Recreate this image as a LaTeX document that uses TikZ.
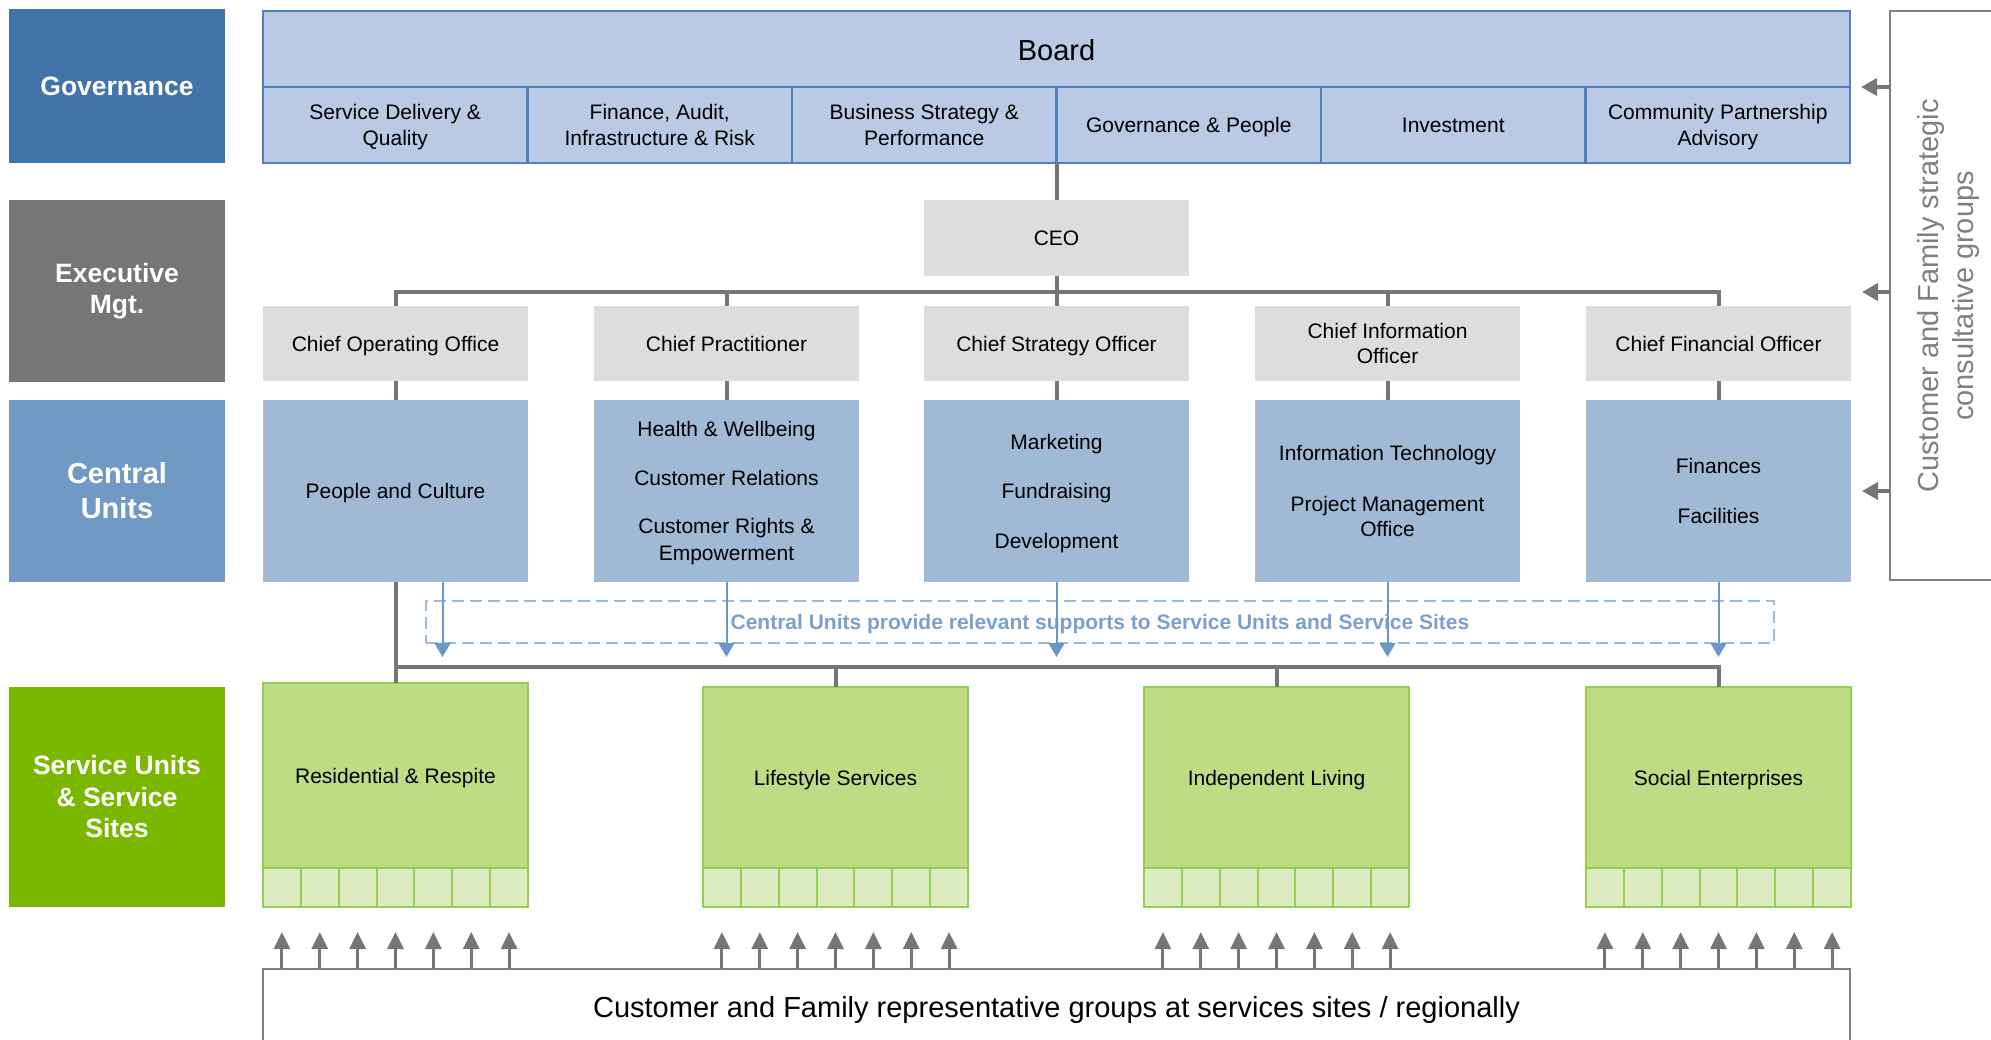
\documentclass[tikz,border=0pt]{standalone}
\usepackage{fontspec}
\setmainfont{Liberation Sans}
\usetikzlibrary{arrows.meta}
\definecolor{govblue}{HTML}{4174A9}
\definecolor{exgray}{HTML}{767676}
\definecolor{cenblue}{HTML}{7099C4}
\definecolor{svgreen}{HTML}{7AB800}
\definecolor{boardfill}{HTML}{BAC9E4}
\definecolor{boardline}{HTML}{4F81BD}
\definecolor{chieffill}{HTML}{DCDEDD}
\definecolor{unitfill}{HTML}{A0BAD6}
\definecolor{grfill}{HTML}{BEDC84}
\definecolor{grline}{HTML}{92D050}
\definecolor{cellfill}{HTML}{DDEBC1}
\definecolor{dashline}{HTML}{9DBAD9}
\definecolor{dashtext}{HTML}{7BA0CB}
\definecolor{arrblue}{HTML}{6C97C5}
\definecolor{linegray}{HTML}{767676}
\definecolor{rgray}{HTML}{808080}
\newcommand{\fnLab}{\fontsize{26.5}{31.5}\selectfont\bfseries}
\newcommand{\fnCen}{\fontsize{29}{35}\selectfont\bfseries}
\newcommand{\fnBox}{\fontsize{21}{25.5}\selectfont}
\newcommand{\fnBig}{\fontsize{29}{35}\selectfont}
\newcommand{\fnDash}{\fontsize{21}{25}\selectfont\bfseries}
\newcommand{\vstr}{\rule[-0.19em]{0pt}{1.14em}}
\begin{document}
\begin{tikzpicture}[x=1pt,y=-1pt,
 every node/.style={inner sep=0pt, outer sep=0pt, anchor=north west, align=center},
 st/.style={execute at begin node={\vstr}, execute at end node={\vstr}},
 ml/.style={text depth=-1pt},
 lbl/.style={rectangle, text=white, font=\fnLab, minimum width=216pt},
 bcell/.style={rectangle, st, draw=boardline, line width=2.5pt, fill=boardfill, font=\fnBox, minimum height=76pt, minimum width=264.5pt},
 chief/.style={rectangle, st, fill=chieffill, font=\fnBox, minimum width=265pt, minimum height=75pt},
 unit/.style={rectangle, st, fill=unitfill, font=\fnBox, minimum width=265pt, minimum height=182pt},
 gbox/.style={rectangle, st, draw=grline, line width=2.5pt, fill=grfill, font=\fnBox, minimum width=265pt},
 gcell/.style={rectangle, draw=grline, line width=2pt, fill=cellfill, minimum width=37.857pt, minimum height=39pt},
 gline/.style={draw=linegray, line width=4pt},
 barrow/.style={draw=arrblue, line width=2pt, -{Triangle[width=16pt,length=14pt]}},
 uarrow/.style={draw=linegray, line width=3pt, -{Triangle[width=16pt,length=17pt]}},
 larrow/.style={draw=linegray, line width=4pt, -{Triangle[width=17pt,length=16pt]}},
]
\useasboundingbox (0,0) rectangle (1991,1040);

% left row labels
\node[lbl, fill=govblue, minimum height=154pt] (gov) at (9,9) {Governance};
\node[lbl, fill=exgray, minimum height=182pt] (exe) at (9,200) {Executive\\Mgt.};
\node[lbl, fill=cenblue, minimum height=182pt, font=\fnCen] (cen) at (9,400) {Central\\Units};
\node[lbl, fill=svgreen, minimum height=220pt] (svc) at (9,687) {Service Units\\\& Service\\Sites};

% board
\node[bcell, minimum width=1587pt, font=\fnBig] (board) at (263,11) {Board};
\node[bcell, ml] (c1) at (263,87) {Service Delivery \&\\Quality};
\node[bcell, ml] (c2) at (527.5,87) {Finance, Audit,\\Infrastructure \& Risk};
\node[bcell, ml] (c3) at (792,87) {Business Strategy \&\\Performance};
\node[bcell] (c4) at (1056.5,87) {Governance \& People};
\node[bcell] (c5) at (1321,87) {Investment};
\node[bcell, ml] (c6) at (1585.5,87) {Community Partnership\\Advisory};

% executive
\node[chief, minimum height=76pt] (ceo) at (924,200) {CEO};
\node[chief] (coo) at (263,306) {Chief Operating Office};
\node[chief] (cp) at (594,306) {Chief Practitioner};
\node[chief] (cso) at (924,306) {Chief Strategy Officer};
\node[chief, ml] (cio) at (1255,306) {Chief Information\\Officer};
\node[chief] (cfo) at (1586,306) {Chief Financial Officer};

% central units
\node[unit] (pc) at (263,400) {People and Culture};
\node[unit, ml] (hw) at (594,400) {Health \& Wellbeing\\[23pt]Customer Relations\\[23pt]Customer Rights \&\\[1.5pt]Empowerment};
\node[unit, ml] (mkt) at (924,400) {Marketing\\[24pt]Fundraising\\[24pt]Development};
\node[unit, ml] (it) at (1255,400) {Information Technology\\[25pt]Project Management\\Office};
\node[unit, ml] (fin) at (1586,400) {Finances\\[24pt]Facilities};

% dashed support box
\node[st, draw=dashline, line width=2pt, dash pattern=on 12pt off 6pt, minimum width=1348pt, minimum height=42pt, text=dashtext, font=\fnDash] (dbox) at (426,601) {Central Units provide relevant supports to Service Units and Service Sites};

% service units
\node[gbox, minimum height=185pt] (res) at (263,683) {Residential \& Respite};
\node[gbox, minimum height=181pt] (life) at (703,687) {Lifestyle Services};
\node[gbox, minimum height=181pt] (ind) at (1144,687) {Independent Living};
\node[gbox, minimum height=181pt] (soc) at (1586,687) {Social Enterprises};

% bottom and right groups
\node[st, draw=rgray, line width=2pt, minimum width=1587pt, minimum height=76pt, font=\fnBig] (bottom) at (263,969) {Customer and Family representative groups at services sites / regionally};
\node[draw=rgray, line width=2pt, minimum width=120pt, minimum height=569pt] (sgroup) at (1890,11) {};
\node[anchor=center, rotate=90, text=rgray, font=\fnBig] (sgtext) at (1948,296) {Customer and Family strategic\\consultative groups};

\coordinate (ebar) at (0,292);
\coordinate (sbar) at (0,667);
\coordinate (atip) at (0,657);
\coordinate (utip) at (0,932);

\foreach \n/\x in {res/263, life/703, ind/1144, soc/1586} {
  \foreach \i in {1,...,7} {
    \node[gcell] (\n\i) at ({\x+(\i-1)*37.857},868) {};
    \draw[uarrow] (\n\i.south |- bottom.north) -- (\n\i.south |- utip);
  }
}

% gray hierarchy lines
\draw[gline] (ceo.north) -- (ceo.north |- c4.south);
\draw[gline] (ceo.south) -- (ceo.south |- ebar);
\draw[gline] (coo.north) -- (coo.north |- ebar) -| (cfo.north);
\draw[gline] (cp.north |- ebar) -- (cp.north);
\draw[gline] (cso.north |- ebar) -- (cso.north);
\draw[gline] (cio.north |- ebar) -- (cio.north);
\draw[gline] (coo.south) -- (pc.north);
\draw[gline] (cp.south) -- (hw.north);
\draw[gline] (cso.south) -- (mkt.north);
\draw[gline] (cio.south) -- (it.north);
\draw[gline] (cfo.south) -- (fin.north);
\draw[gline] (pc.south) -- (res.north);
\draw[gline] (res.north |- sbar) -| (soc.north);
\draw[gline] (life.north |- sbar) -- (life.north);
\draw[gline] (ind.north |- sbar) -- (ind.north);

% blue support arrows
\draw[barrow] ([xshift=47pt]pc.south) -- ([xshift=47pt]pc.south |- atip);
\draw[barrow] (hw.south) -- (hw.south |- atip);
\draw[barrow] (mkt.south) -- (mkt.south |- atip);
\draw[barrow] (it.south) -- (it.south |- atip);
\draw[barrow] (fin.south) -- (fin.south |- atip);

% arrows from strategic groups
\draw[larrow] (sgroup.west |- c6.north) -- ([xshift=11pt]c6.north east);
\draw[larrow] (sgroup.west |- ebar) -- ([xshift=11pt]cfo.east |- ebar);
\draw[larrow] (sgroup.west |- fin.east) -- ([xshift=11pt]fin.east);
\end{tikzpicture}
\end{document}
